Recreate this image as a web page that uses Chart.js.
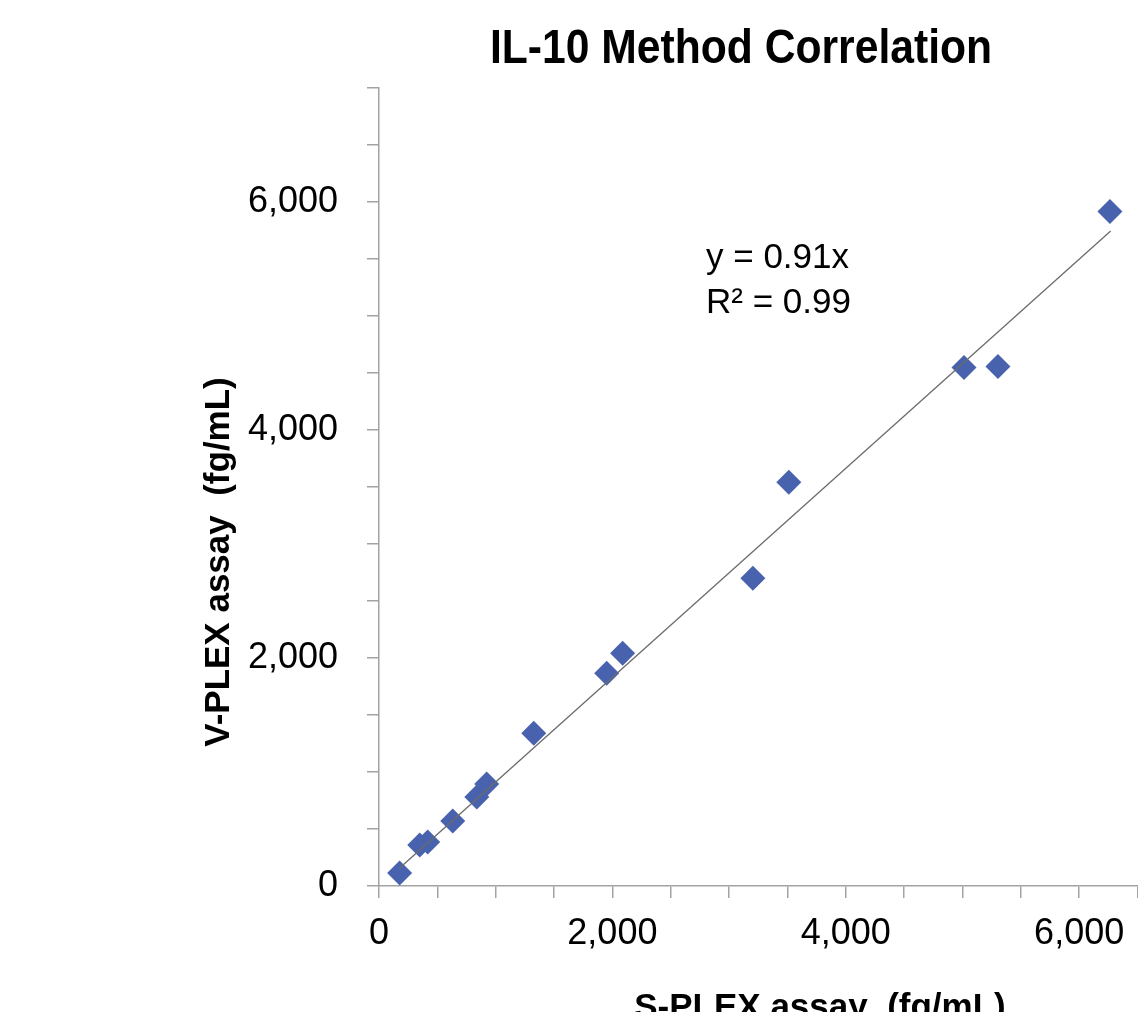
<!DOCTYPE html>
<html>
<head>
<meta charset="utf-8">
<title>IL-10 Method Correlation</title>
<script src="https://cdn.jsdelivr.net/npm/chart.js@4.4.0/dist/chart.umd.min.js"></script>
<style>
  html, body { margin: 0; padding: 0; background: #fff; overflow: hidden; }
  /* canvas a bit wider than the window: the axis in the original runs off the right edge */
  #wrap { width: 1150px; height: 1012px; position: relative; }
</style>
</head>
<body>
<div id="wrap"><canvas id="corrChart"></canvas></div>
<script>
// S-PLEX (x) vs V-PLEX (y), fg/mL
const sPlex = [177, 349, 417, 632, 838, 923, 1326, 1951, 2088, 3204, 3512, 5013, 5304, 6264];
const vPlex = [114, 359, 386, 570, 780, 894, 1341, 1867, 2042, 2699, 3541, 4549, 4557, 5916];

// trendline end points (y = 0.91x)
const trendX = [177, 6270];
const trendY = [158, 5746];

const titleText = "IL-10 Method Correlation";
const xTitle = "S-PLEX assay  (fg/mL)";
const yTitle = "V-PLEX assay  (fg/mL)";
const equationLines = ["y = 0.91x", "R\u00b2 = 0.99"];

const FONT = "'Liberation Sans', Arial, sans-serif";

// Titles and equation are placed like in the original, not centered on the axes
const textPlugin = {
  id: "textLabels",
  afterDraw(chart) {
    const ctx = chart.ctx;
    ctx.save();
    ctx.fillStyle = "#000";

    // main title (condensed look)
    ctx.font = "bold 49px " + FONT;
    ctx.textAlign = "center";
    ctx.textBaseline = "alphabetic";
    ctx.save();
    ctx.translate(741, 63);
    ctx.scale(0.87, 1);
    ctx.fillText(titleText, 0, 0);
    ctx.restore();

    // x axis title
    ctx.font = "bold 35px " + FONT;
    ctx.fillText(xTitle, 820, 1018);

    // y axis title
    ctx.save();
    ctx.translate(229, 562);
    ctx.rotate(-Math.PI / 2);
    ctx.fillText(yTitle, 0, 0);
    ctx.restore();

    // regression equation
    ctx.font = "35px " + FONT;
    ctx.textAlign = "left";
    ctx.fillText(equationLines[0], 706, 268);
    ctx.fillText(equationLines[1], 706, 313);

    ctx.restore();
  },
};

function labelEvery2000(value) {
  return value % 2000 === 0 ? value.toLocaleString("en-US") : "";
}

const ctx = document.getElementById("corrChart").getContext("2d");

new Chart(ctx, {
  type: "scatter",
  data: {
    datasets: [
      {
        type: "line",
        label: "Trend",
        data: trendX.map((x, i) => ({ x: x, y: trendY[i] })),
        borderColor: "#6b6b6b",
        borderWidth: 1.3,
        pointRadius: 0,
        fill: false,
        order: 0,
      },
      {
        label: "Samples",
        data: sPlex.map((x, i) => ({ x: x, y: vPlex[i] })),
        pointStyle: "rectRot",
        pointRadius: 12.5,
        backgroundColor: "#4862ae",
        borderColor: "#4862ae",
        borderWidth: 0,
        order: 1,
      },
    ],
  },
  options: {
    responsive: true,
    maintainAspectRatio: false,
    animation: false,
    layout: {
      padding: { top: 88, right: 1, left: 0, bottom: 0 },
    },
    scales: {
      x: {
        type: "linear",
        min: 0,
        max: 6500,
        afterFit: (scale) => { scale.height = 126; },
        border: { display: true, color: "#a3a3a3", width: 1.5 },
        grid: { drawOnChartArea: false, drawTicks: true, tickLength: 12, color: "#a3a3a3", lineWidth: 1.5 },
        ticks: {
          stepSize: 500,
          autoSkip: false,
          maxRotation: 0,
          minRotation: 0,
          padding: 0,
          color: "#000",
          font: { family: FONT, size: 36, lineHeight: 1.98 },
          callback: labelEvery2000,
        },
      },
      y: {
        type: "linear",
        min: 0,
        max: 7000,
        afterFit: (scale) => { scale.width = 379; },
        border: { display: true, color: "#a3a3a3", width: 1.5 },
        grid: { drawOnChartArea: false, drawTicks: true, tickLength: 12, color: "#a3a3a3", lineWidth: 1.5 },
        ticks: {
          stepSize: 500,
          autoSkip: false,
          padding: 29,
          color: "#000",
          font: { family: FONT, size: 36 },
          callback: labelEvery2000,
        },
      },
    },
    plugins: {
      legend: { display: false },
      title: { display: false },
      tooltip: { enabled: false },
    },
  },
  plugins: [textPlugin],
});
</script>
</body>
</html>
